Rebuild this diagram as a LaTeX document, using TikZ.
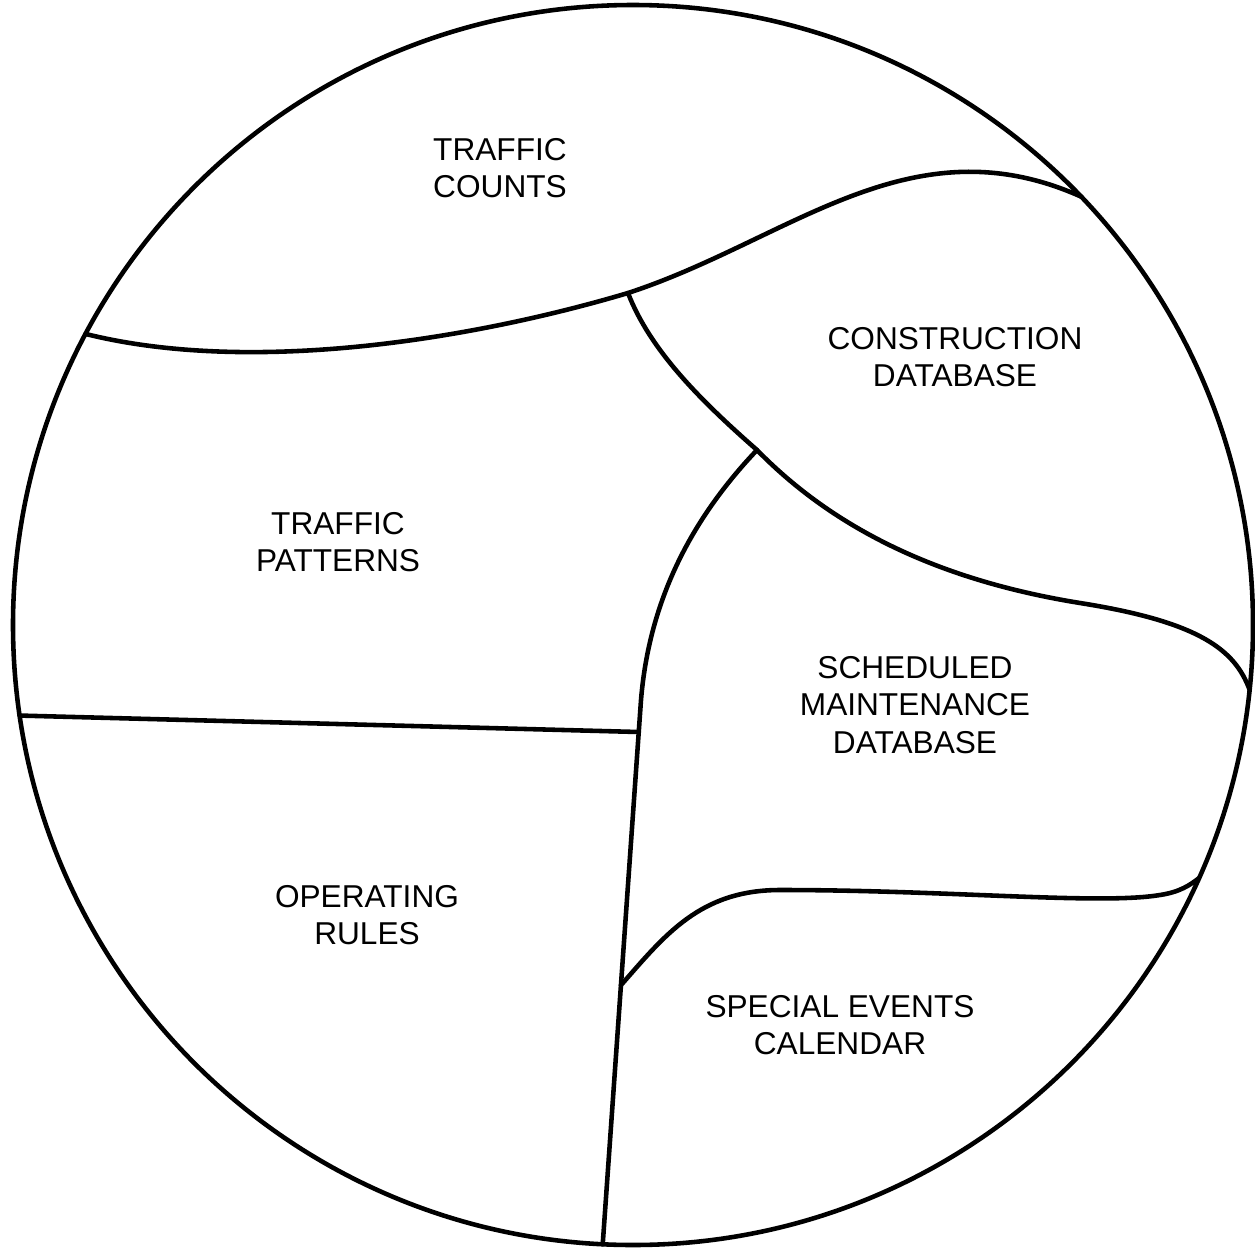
\documentclass[tikz,border=0pt]{standalone}
\usepackage{fontspec}
\setmainfont{Liberation Sans}
\usetikzlibrary{calc}

\begin{document}
\begin{tikzpicture}
    [x=0.02cm,y=-0.02cm,every node/.style={align=center,font=\fontsize{18}{21.5}\selectfont},
     border/.style={line width=2.6pt,line cap=round,line join=round}]
    \useasboundingbox (0,0) rectangle (1255,1251);

    % outer circle and the points where the borders meet it
    \coordinate (O) at (633,625);
    \draw[border] (O) circle[radius=620];
    \coordinate (L1) at ($(O)+(208:620)$);
    \coordinate (R1) at ($(O)+(-43.7:620)$);
    \coordinate (R2) at ($(O)+(6:620)$);
    \coordinate (R3) at ($(O)+(24.1:620)$);
    \coordinate (L2) at ($(O)+(171.6:620)$);
    \coordinate (B) at ($(O)+(92.8:620)$);

    % inner junctions
    \coordinate (J1) at (628,293);
    \coordinate (J2) at (757,450);
    \coordinate (V) at (641,700);
    \coordinate (J3) at ($(V)!0.0588!(B)$);
    \coordinate (J4) at ($(V)!0.524!(B)$);

    % borders between the regions
    \draw[border] (L1) .. controls (250,375) and (470,340) .. (J1)
                       .. controls (790,240) and (910,120) .. (R1);
    \draw[border] (J1) .. controls (650,350) and (700,400) .. (J2)
                       .. controls (840,535) and (950,582) .. (1080,603)
                       .. controls (1200,622) and (1235,650) .. (R2);
    \draw[border] (J2) .. controls (700,510) and (650,590) .. (V) -- (B);
    \draw[border] (L2) -- (J3);
    \draw[border] (J4) .. controls (665,935) and (700,890) .. (780,890)
                       .. controls (950,890) and (1100,905) .. (1160,895)
                       .. controls (1180,892) and (1190,885) .. (R3);

    % region labels
    \node (counts) at (500,168) {TRAFFIC\\COUNTS};
    \node (construction) at (955,357) {CONSTRUCTION\\DATABASE};
    \node (patterns) at (338,542) {TRAFFIC\\PATTERNS};
    \node (maintenance) at (915,705) {SCHEDULED\\MAINTENANCE\\DATABASE};
    \node (rules) at (367,915) {OPERATING\\RULES};
    \node (events) at (840,1025) {SPECIAL EVENTS\\CALENDAR};
\end{tikzpicture}
\end{document}
